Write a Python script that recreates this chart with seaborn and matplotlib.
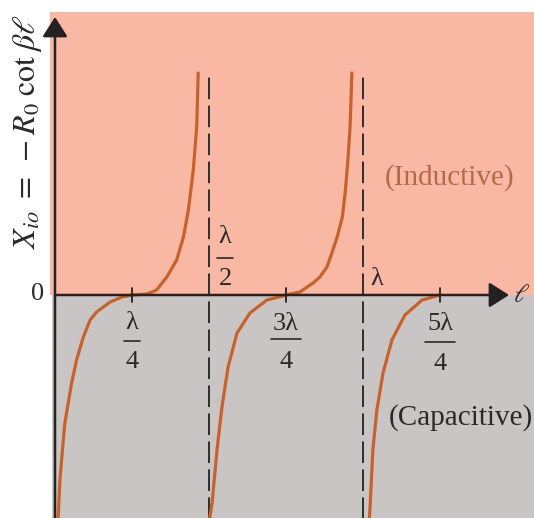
import matplotlib
matplotlib.use("Agg")
import matplotlib.pyplot as plt
import seaborn as sns
import pandas as pd
from matplotlib.patches import Rectangle

# ---- data (x in wavelengths, y = normalized reactance) ----
branch1_l = [0.006, 0.011, 0.016, 0.025, 0.032, 0.043, 0.054, 0.070, 0.092, 0.114,
             0.135, 0.179, 0.217, 0.25, 0.298, 0.330, 0.363, 0.395, 0.417, 0.433,
             0.449, 0.460, 0.465]
branch1_x = [-2.45, -2.18, -1.85, -1.52, -1.28, -1.08, -0.88, -0.65, -0.42, -0.25,
             -0.17, -0.07, -0.02, 0.0, 0.01, 0.05, 0.18, 0.35, 0.58, 0.85,
             1.25, 1.68, 2.22]
branch2_l = [0.500, 0.503, 0.510, 0.526, 0.542, 0.562, 0.591, 0.633, 0.688, 0.740,
             0.75, 0.795, 0.838, 0.860, 0.883, 0.899, 0.916, 0.933, 0.942, 0.951,
             0.958, 0.964]
branch2_x = [-2.45, -2.22, -2.08, -1.55, -1.12, -0.72, -0.38, -0.18, -0.05, -0.01,
             0.0, 0.03, 0.12, 0.18, 0.28, 0.42, 0.58, 0.78, 1.02, 1.35,
             1.68, 2.22]
branch3_l = [1.016, 1.023, 1.032, 1.045, 1.065, 1.094, 1.136, 1.192, 1.25]
branch3_x = [-2.45, -2.12, -1.55, -1.15, -0.78, -0.45, -0.20, -0.05, 0.0]

asymptotes = [0.5, 1.0]
asymptote_top = 2.22
tick_positions = [0.25, 0.75, 1.25]

sns.set_style("white")
plt.rcParams["font.family"] = ["Liberation Serif", "DejaVu Serif"]
plt.rcParams["mathtext.fontset"] = "stix"

fig = plt.figure(figsize=(5.34, 5.18), dpi=100)
ax = fig.add_axes([0, 0, 1, 1])
X0, SX, Y0, SY = 55, 308.0, 295, 100.0
def px(p): return (p - X0) / SX
def py(p): return (Y0 - p) / SY
ax.set_xlim(px(0), px(534))
ax.set_ylim(py(518), py(0))
ax.axis("off")

pink = "#f8b8a3"
gray = "#c9c5c5"
ax.add_patch(Rectangle((px(50), 0), px(540) - px(50), py(12), color=pink, zorder=0, lw=0))
ax.add_patch(Rectangle((px(52), py(530)), px(540) - px(52), -py(530), color=gray, zorder=0, lw=0))

df = pd.concat([
    pd.DataFrame({"l": branch1_l, "X": branch1_x, "branch": 1}),
    pd.DataFrame({"l": branch2_l, "X": branch2_x, "branch": 2}),
    pd.DataFrame({"l": branch3_l, "X": branch3_x, "branch": 3}),
])
sns.lineplot(data=df, x="l", y="X", units="branch", estimator=None, sort=False,
             color="#c8622c", lw=2.3, ax=ax, legend=False, zorder=4)

# asymptotes
for a in asymptotes:
    ax.plot([a, a], [py(540), asymptote_top], color="#222222", lw=1.3,
            dashes=(12, 3.5), zorder=3)

# axes with arrows
ax.annotate("", xy=(px(509), 0), xytext=(0, 0),
            arrowprops=dict(arrowstyle="-|>,head_length=0.55,head_width=0.35",
                            lw=1.8, color="#222222", mutation_scale=22,
                            shrinkA=0, shrinkB=0), zorder=5)
ax.annotate("", xy=(0, py(17)), xytext=(0, py(530)),
            arrowprops=dict(arrowstyle="-|>,head_length=0.55,head_width=0.35",
                            lw=1.8, color="#222222", mutation_scale=22,
                            shrinkA=0, shrinkB=0), zorder=5)
for t in tick_positions:
    ax.plot([t, t], [py(302), py(288)], color="#222222", lw=1.3, zorder=5)

fs = 19
tc = "#2a2a2a"
def frac(xc, top, bottom, y_top, y_bar, y_bot, w):
    ax.text(px(xc), py(y_top), top, ha="center", va="center", fontsize=fs, color=tc)
    ax.plot([px(xc - w / 2), px(xc + w / 2)], [py(y_bar), py(y_bar)], color=tc, lw=1.2)
    ax.text(px(xc), py(y_bot), bottom, ha="center", va="center", fontsize=fs, color=tc)

frac(132, "λ", "4", 323, 341, 362, 16)
frac(286, "3λ", "4", 324, 339, 362, 30)
frac(440, "5λ", "4", 324, 342, 364, 30)
frac(225, "λ", "2", 237, 258, 279, 16)
ax.text(px(377), py(279), "λ", ha="center", va="center", fontsize=fs, color=tc)

ax.text(px(38), py(294), "0", ha="center", va="center", fontsize=fs, color=tc)
ax.text(px(522), py(296), r"$\ell$", ha="center", va="center", fontsize=fs, color=tc)

ax.text(px(450), py(178), "(Inductive)", ha="center", va="center",
        fontsize=21, color="#b5694a")
ax.text(px(461), py(418), "(Capacitive)", ha="center", va="center",
        fontsize=21, color=tc)

ax.text(px(28), py(132), r"$X_{io}\;=\;-R_0\;\mathrm{cot}\;\beta\ell$",
        rotation=90, ha="center", va="center", fontsize=23, color=tc)

fig.savefig("out.png", dpi=100)
